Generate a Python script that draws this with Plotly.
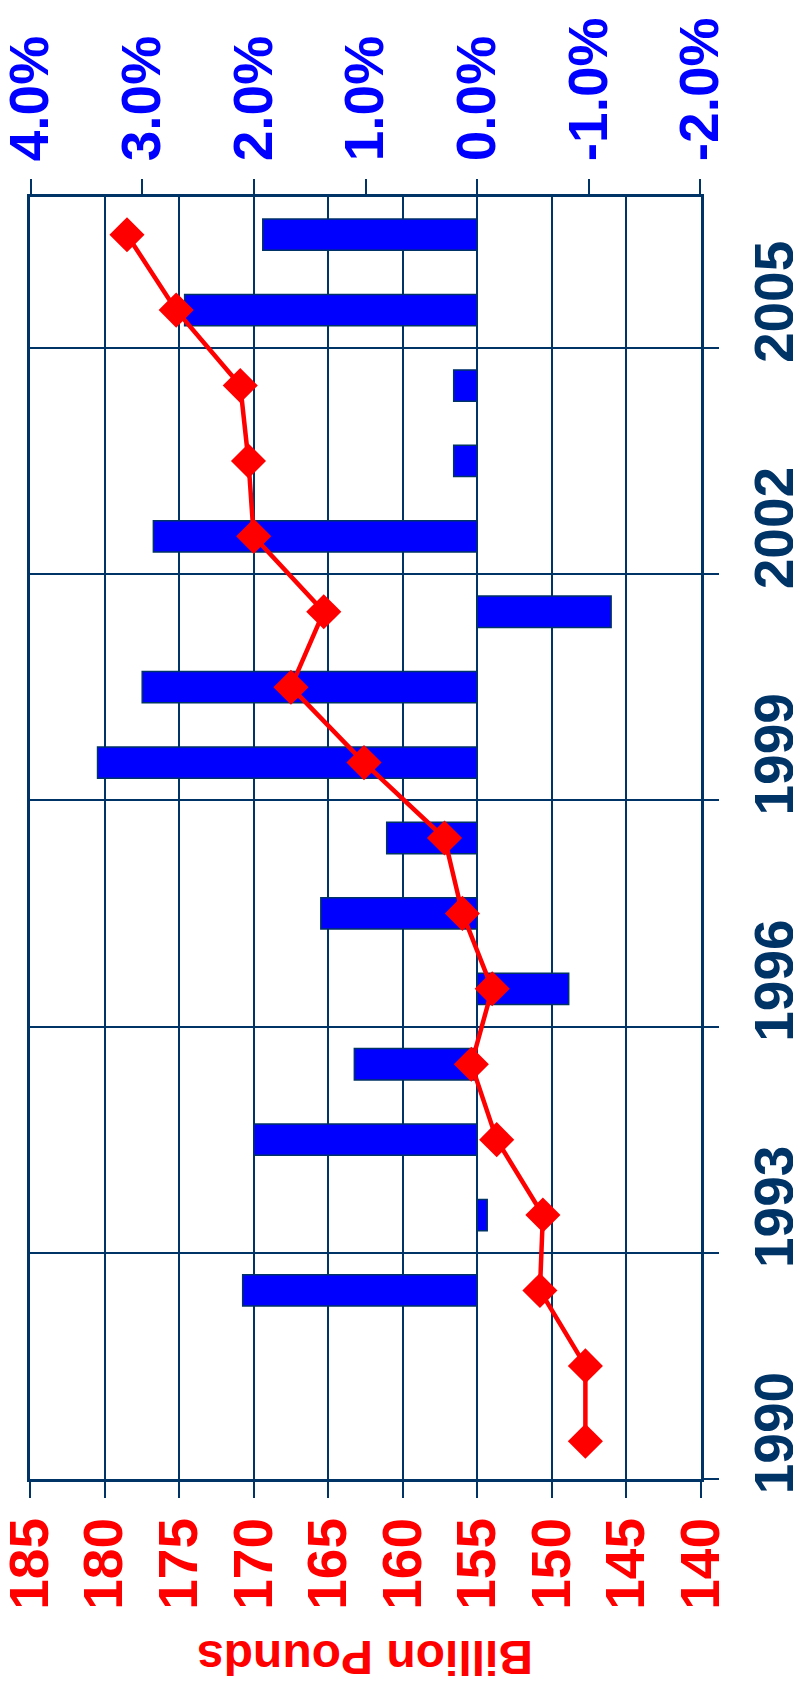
import plotly.graph_objects as go

# ---- data ----
years = list(range(1990, 2007))
billion_pounds = [147.75, 147.75, 150.8, 150.6, 153.7, 155.4, 154.0, 156.0, 157.2,
                  162.6, 167.5, 165.3, 170.0, 170.35, 170.9, 175.2, 178.5]
pct_change = [None, 0.0, 2.10, -0.09, 2.00, 1.10, -0.82, 1.40, 0.81,
              3.40, 3.00, -1.20, 2.90, 0.21, 0.21, 2.62, 1.92]
year_label_vals = [1990, 1993, 1996, 1999, 2002, 2005]
year_labels = ["1990", "1993", "1996", "1999", "2002", "2005"]
pct_ticks = [4, 3, 2, 1, 0, -1, -2]
pct_labels = ["4.0%", "3.0%", "2.0%", "1.0%", "0.0%", "-1.0%", "-2.0%"]
bn_ticks = [185, 180, 175, 170, 165, 160, 155, 150, 145, 140]
bn_labels = [str(v) for v in bn_ticks]

NAVY = "#003366"
FONT = "Liberation Sans, Arial, sans-serif"
FS = 55
boundaries = [y - 0.5 for y in year_label_vals]
yrange = [years[0] - 0.5, years[-1] + 0.5]
EPS = 0.005

fig = go.Figure()
fig.add_trace(go.Bar(
    x=pct_change, y=years, orientation="h", width=0.415,
    marker=dict(color="#0000FF", line=dict(color=NAVY, width=1.5)),
    xaxis="x", yaxis="y", showlegend=False))
fig.add_trace(go.Scatter(
    x=billion_pounds, y=years, mode="lines+markers",
    line=dict(color="#FF0000", width=4.5),
    marker=dict(symbol="diamond", size=27, color="#FF0000"),
    xaxis="x2", yaxis="y2", showlegend=False))

# page body has an 8px default margin, so the figure is sized to fit the window
fig.update_layout(
    width=793, height=1683,
    margin=dict(l=22, r=100, t=189, b=212, autoexpand=False),
    paper_bgcolor="white", plot_bgcolor="white",
    xaxis=dict(range=[pct_ticks[0] + EPS, pct_ticks[-1] - EPS], side="top",
               tickvals=pct_ticks, ticktext=pct_labels, automargin=False,
               tickangle=-90, ticks="outside", ticklen=15, tickwidth=2, tickcolor=NAVY,
               ticklabelstandoff=7, ticklabeloverflow="allow",
               showline=True, linecolor=NAVY, linewidth=2.5, showgrid=False, zeroline=False,
               tickfont=dict(family=FONT, size=FS, color="#0000FF", weight=700)),
    xaxis2=dict(range=[bn_ticks[0] + EPS, bn_ticks[-1] - EPS], side="bottom", overlaying="x",
                tickvals=bn_ticks, ticktext=bn_labels, automargin=False,
                tickangle=-90, ticks="outside", ticklen=16, tickwidth=2, tickcolor=NAVY,
                ticklabelstandoff=-2, ticklabeloverflow="allow",
                showline=True, linecolor=NAVY, linewidth=3, showgrid=True, gridcolor=NAVY, gridwidth=2,
                zeroline=False,
                tickfont=dict(family=FONT, size=FS, color="#FF0000", weight=700)),
    yaxis=dict(range=yrange, side="right", tickvals=boundaries, showticklabels=False, automargin=False,
               ticks="outside", ticklen=15, tickwidth=2, tickcolor=NAVY,
               showline=True, mirror=True, linecolor=NAVY, linewidth=3,
               showgrid=True, gridcolor=NAVY, gridwidth=2, zeroline=False),
    yaxis2=dict(range=yrange, side="right", overlaying="y", tickvals=year_label_vals, ticktext=year_labels,
                tickangle=-90, ticks="", showgrid=False, zeroline=False, showline=False, automargin=False,
                ticklabelstandoff=36, ticklabeloverflow="allow",
                tickfont=dict(family=FONT, size=FS, color=NAVY, weight=700)),
    annotations=[dict(text="Billion Pounds", xref="paper", yref="paper", x=0.5, y=-0.1388,
                      xanchor="center", yanchor="middle", textangle=180, showarrow=False,
                      font=dict(family=FONT, size=48, color="#FF0000", weight=700))],
)

fig.write_html("out.html")
